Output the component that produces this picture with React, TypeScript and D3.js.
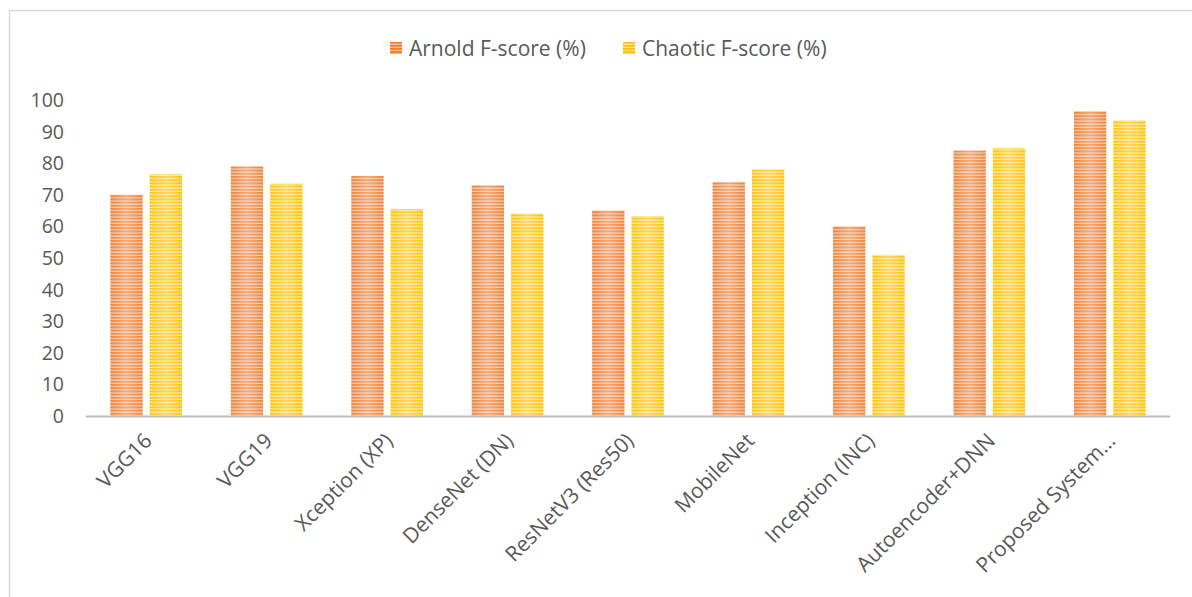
import React from "react";
import * as d3 from "d3";

const categories = [
  "VGG16",
  "VGG19",
  "Xception (XP)",
  "DenseNet (DN)",
  "ResNetV3 (Res50)",
  "MobileNet",
  "Inception (INC)",
  "Autoencoder+DNN",
  "Proposed System...",
];
const arnold = [70, 79, 76, 73, 65, 74, 60, 84, 96.5];
const chaotic = [76.5, 73.5, 65.5, 64, 63.2, 78, 51, 84.7, 93.5];
const seriesNames = ["Arnold F-score (%)", "Chaotic F-score (%)"];
const yTicks = [0, 10, 20, 30, 40, 50, 60, 70, 80, 90, 100];

const W = 1192;
const H = 597;
const FONT = "'Open Sans', 'Noto Sans', sans-serif";
const TEXT = "#595959";
const colors = ["#ED7D31", "#FFC000"];
const light = ["#F8C8A6", "#FFE699"];

export default function App() {
  const x0 = d3.scaleBand<string>().domain(categories).range([86, 1170]).paddingInner(0).paddingOuter(0);
  const x1 = d3.scaleBand<string>().domain(["a", "c"]).range([0, x0.bandwidth()]).paddingInner(0.18).paddingOuter(0.62);
  const y = d3.scaleLinear().domain([0, 100]).range([416, 100]);
  const series = [arnold, chaotic];
  const keys = ["a", "c"];

  return (
    <svg width={W} height={H} style={{ position: "absolute", left: 0, top: 0, background: "#fff" }}>
      <defs>
        {colors.map((c, i) => (
          <pattern key={i} id={`stripe${i}`} width={8} height={3.2} patternUnits="userSpaceOnUse">
            <rect width={8} height={3.2} fill={c} />
            <rect y={2} width={8} height={1.2} fill={light[i]} />
          </pattern>
        ))}
        <linearGradient id="sheen" x1="0" x2="1" y1="0" y2="0">
          <stop offset="0" stopColor="#fff" stopOpacity={0.05} />
          <stop offset="0.5" stopColor="#fff" stopOpacity={0.35} />
          <stop offset="1" stopColor="#fff" stopOpacity={0.05} />
        </linearGradient>
      </defs>

      {/* outer frame */}
      <path d={`M9.5,${H} V10.5 H${W}`} fill="none" stroke="#d9d9d9" strokeWidth={1.5} />

      {/* legend */}
      {seriesNames.map((name, i) => {
        const lx = i === 0 ? 390 : 623;
        return (
          <g key={name}>
            <rect x={lx} y={42} width={12} height={12} fill={`url(#stripe${i})`} />
            <text x={lx + 19} y={56} fontFamily={FONT} fontSize={21} fill={TEXT}>
              {name}
            </text>
          </g>
        );
      })}

      {/* y tick labels */}
      {yTicks.map((t) => (
        <text key={t} x={64} y={y(t) + 7} textAnchor="end" fontFamily={FONT} fontSize={19.5} fill={TEXT}>
          {t}
        </text>
      ))}

      {/* bars */}
      {categories.map((cat, ci) => (
        <g key={cat} transform={`translate(${x0(cat)},0)`}>
          {series.map((vals, si) => {
            const bx = x1(keys[si])!;
            const by = y(vals[ci]);
            const bh = y(0) - by;
            return (
              <g key={si}>
                <rect x={bx} y={by} width={x1.bandwidth()} height={bh} fill={`url(#stripe${si})`} />
                <rect x={bx} y={by} width={x1.bandwidth()} height={bh} fill="url(#sheen)" />
              </g>
            );
          })}
        </g>
      ))}

      {/* category axis baseline */}
      <line x1={86} x2={1170} y1={y(0) + 0.5} y2={y(0) + 0.5} stroke="#bfbfbf" strokeWidth={2} />

      {/* category labels */}
      {categories.map((cat) => {
        const cx = x0(cat)! + x0.bandwidth() / 2 + 7;
        return (
          <text
            key={cat}
            transform={`translate(${cx},${442}) rotate(-45)`}
            textAnchor="end"
            fontFamily={FONT}
            fontSize={21}
            fill={TEXT}
          >
            {cat}
          </text>
        );
      })}
    </svg>
  );
}
